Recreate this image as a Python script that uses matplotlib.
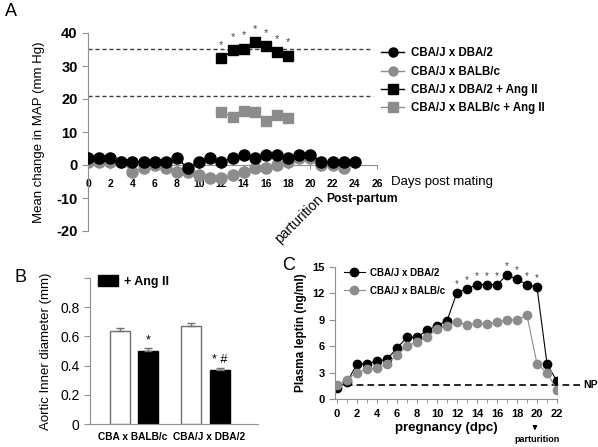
import numpy as np
import matplotlib.pyplot as plt
from matplotlib.patches import Patch
from matplotlib.lines import Line2D

plt.rcParams['font.family'] = ['Liberation Sans', 'DejaVu Sans']

GRAY = "#8c8c8c"
AXC = "#909090"

# ── panel A data ─────────────────────────────────────────────────────────
days_dba = np.arange(0, 25)
map_dba = [2, 2, 2, 1, 1, 1, 1, 1, 2, -1, 1, 2, 1, 2, 3, 2, 3, 3, 2, 3, 3, 1, 1, 1, 1]
days_balb = np.arange(0, 24)
map_balb = [1, 1, 1, 1, -2, -1, 0, -1, -2, -2, -3, -4, -4, -3, -2, -1, -1, 0, 1, 2, 2, 0, 0, -1]
days_ang = np.arange(12, 19)
map_dba_ang = [32.3, 34.7, 35.3, 37.3, 36.0, 34.3, 33.1]
map_balb_ang = [16.0, 14.5, 16.3, 16.0, 13.2, 15.3, 14.2]
ref_lines_a = [35.2, 20.8]
legend_a = ["CBA/J x DBA/2", "CBA/J x BALB/c", "CBA/J x DBA/2 + Ang II", "CBA/J x BALB/c + Ang II"]

# ── panel B data ─────────────────────────────────────────────────────────
groups_b = ["CBA x BALB/c", "CBA/J x DBA/2"]
diam_ctrl = [0.635, 0.67]
diam_ctrl_err = [0.02, 0.025]
diam_ang = [0.50, 0.37]
diam_ang_err = [0.02, 0.015]
marks_b = ["*", "* #"]

# ── panel C data ─────────────────────────────────────────────────────────
dpc = np.arange(0, 23)
leptin_dba = [1.2, 1.9, 4.0, 4.0, 4.3, 4.5, 5.8, 7.0, 7.0, 7.8, 8.3, 8.9, 12.1, 12.5,
              13.0, 13.0, 13.0, 14.1, 13.6, 13.0, 12.7, 4.0, 2.0]
leptin_balb = [1.6, 2.2, 3.0, 3.4, 3.5, 4.0, 5.0, 6.0, 6.5, 7.0, 8.0, 8.3, 8.8, 8.4,
               8.6, 8.5, 8.7, 9.0, 9.0, 9.5, 4.0, 3.0, 1.0]
star_days_c = np.arange(12, 21)
np_level = 1.6

fig = plt.figure(figsize=(5.98, 4.47), dpi=100)

# ═══════════════════════════════════════════════════════════════════════════
#  PANEL A
# ═══════════════════════════════════════════════════════════════════════════
axA = fig.add_axes([88/598, 1-231/447, 289/598, 198/447])
for y in ref_lines_a:
    axA.plot([0, 25.6], [y, y], ls="--", color="#404040", lw=1, dashes=(3, 2), zorder=1)
axA.plot(days_balb, map_balb, "-o", color=GRAY, ms=8, lw=1, zorder=2)
axA.plot(days_dba, map_dba, "-o", color="black", ms=8, lw=1, mfc="black", zorder=3)
axA.plot(days_ang, map_dba_ang, "-s", color="black", ms=7.5, lw=1, zorder=3)
axA.plot(days_ang, map_balb_ang, "-s", color=GRAY, ms=7.5, lw=1, zorder=3)
for d, v in zip(days_ang, map_dba_ang):
    axA.text(d, v + 4.0, "*", ha="center", va="center", fontsize=8, color="#444444")

axA.set_xlim(0, 26)
axA.set_ylim(-20, 40)
axA.spines["top"].set_visible(False)
axA.spines["right"].set_visible(False)
axA.spines["bottom"].set_position(("data", 0))
for s in ("left", "bottom"):
    axA.spines[s].set_color(AXC)
axA.set_xticks(np.arange(0, 27, 2))
axA.set_xticklabels([str(v) for v in range(0, 27, 2)], fontsize=7.5, fontweight="bold")
axA.tick_params(axis="x", length=3, color=AXC, pad=7)
axA.set_yticks(np.arange(-20, 41, 10))
axA.set_yticklabels([str(v) for v in range(-20, 41, 10)], fontsize=10.5, fontweight="bold")
axA.tick_params(axis="y", length=4, color=AXC)
axA.set_ylabel("Mean change in MAP (mm Hg)", fontsize=9.5, labelpad=8)
axA.text(27.3, -5.0, "Days post mating", fontsize=9.5, va="center", ha="left", clip_on=False)
axA.text(19.0, -16.3, "parturition", fontsize=10, rotation=45, ha="center", va="center", clip_on=False)
axA.text(24.7, -10.4, "Post-partum", fontsize=8.7, fontweight="bold", ha="center", va="center", clip_on=False)

handles_a = [
    Line2D([], [], color="black", marker="o", ms=6.5, lw=1),
    Line2D([], [], color=GRAY, marker="o", ms=6.5, lw=1),
    Line2D([], [], color="black", marker="s", ms=6.5, lw=1),
    Line2D([], [], color=GRAY, marker="s", ms=6.5, lw=1),
]
fig.legend(handles_a, legend_a, loc="upper left", bbox_to_anchor=(371/598, 1-37/447),
           frameon=False, handlelength=2.0, handletextpad=0.6, labelspacing=0.55,
           prop={"size": 8.3, "weight": "bold"})
fig.text(5/598, 1-12/447, "A", fontsize=13, va="center")

# ═══════════════════════════════════════════════════════════════════════════
#  PANEL B
# ═══════════════════════════════════════════════════════════════════════════
axB = fig.add_axes([90/598, 1-424/447, 168/598, 146/447])
ctrl_x = np.array([1.5, 5.05])
ang_x = np.array([2.9, 6.5])
axB.bar(ctrl_x, diam_ctrl, width=1.0, color="white", edgecolor="#707070", lw=1,
        yerr=[[0, 0], diam_ctrl_err], capsize=3, error_kw={"ecolor": "#707070", "lw": 1})
axB.bar(ang_x, diam_ang, width=1.0, color="black", edgecolor="black", lw=1,
        yerr=[[0, 0], diam_ang_err], capsize=3, error_kw={"ecolor": "#707070", "lw": 1})
for c, v, e, m in zip(ang_x, diam_ang, diam_ang_err, marks_b):
    axB.text(c, v + e + 0.05, m, ha="center", va="center", fontsize=9)
axB.set_xlim(0, 8.4)
axB.set_ylim(0, 1.0)
axB.spines["top"].set_visible(False)
axB.spines["right"].set_visible(False)
for s in ("left", "bottom"):
    axB.spines[s].set_color(AXC)
axB.set_xticks([2.15, 5.95])
axB.set_xticklabels(groups_b, fontsize=7.3, fontweight="bold")
axB.tick_params(axis="x", length=0, pad=6)
axB.set_yticks([0, 0.2, 0.4, 0.6, 0.8, 1.0])
axB.set_yticklabels(["0", "0.2", "0.4", "0.6", "0.8", ""], fontsize=10)
axB.tick_params(axis="y", length=4, color=AXC)
axB.set_ylabel("Aortic Inner diameter (mm)", fontsize=9.5, labelpad=6)
axB.legend([Patch(facecolor="black", edgecolor="black")], ["+ Ang II"], loc="upper left",
           bbox_to_anchor=(-0.02, 1.1), frameon=False, handlelength=1.6, handleheight=1.0,
           handletextpad=0.5, prop={"size": 9, "weight": "bold"})
fig.text(15/598, 1-277/447, "B", fontsize=13, va="center")

# ═══════════════════════════════════════════════════════════════════════════
#  PANEL C
# ═══════════════════════════════════════════════════════════════════════════
axC = fig.add_axes([335/598, 1-399/447, 222/598, 132/447])
axC.plot([-0.2, 24.3], [np_level, np_level], ls="--", color="black", lw=1.2,
         dashes=(4, 2.5), clip_on=False, zorder=1)
axC.plot(dpc, leptin_dba, "-o", color="black", ms=6, lw=0.8, mfc="black",
         markeredgecolor="black", zorder=2, label="CBA/J x DBA/2")
axC.plot(dpc, leptin_balb, "-o", color=GRAY, ms=6, lw=0.8, zorder=3,
         label="CBA/J x BALB/c")
for d in star_days_c:
    axC.text(d, leptin_dba[d] + 1.0, "*", ha="center", va="center", fontsize=7, color="#444444")
axC.text(24.6, np_level, "NP", fontsize=7.5, fontweight="bold", va="center", ha="left")

axC.set_xlim(-0.2, 22)
axC.set_ylim(0, 15)
axC.spines["top"].set_visible(False)
axC.spines["right"].set_visible(False)
for s in ("left", "bottom"):
    axC.spines[s].set_color(AXC)
axC.set_xticks(np.arange(0, 23, 2))
axC.set_xticks(np.arange(0, 23, 1), minor=True)
axC.set_xticklabels([str(v) for v in range(0, 23, 2)], fontsize=8, fontweight="bold")
axC.tick_params(axis="x", which="both", length=3, color=AXC, pad=4)
axC.set_yticks(np.arange(0, 16, 3))
axC.set_yticklabels([str(v) for v in range(0, 16, 3)], fontsize=8, fontweight="bold")
axC.tick_params(axis="y", length=4, color=AXC)
axC.set_ylabel("Plasma leptin (ng/ml)", fontsize=8.5, fontweight="bold", labelpad=4)
axC.set_xlabel("pregnancy (dpc)", fontsize=9.5, fontweight="bold", labelpad=2)
axC.legend(loc="upper left", bbox_to_anchor=(0.0, 1.06), frameon=False, handlelength=2.2,
           handletextpad=0.5, labelspacing=0.8, prop={"size": 7, "weight": "bold"})
axC.annotate("", xy=(19.8, -3.9), xytext=(19.8, -2.9), annotation_clip=False,
             arrowprops=dict(arrowstyle="-|>", color="black", lw=1, mutation_scale=6))
axC.text(20.0, -4.6, "parturition", fontsize=6.5, fontweight="bold", ha="center", va="center",
         clip_on=False)
fig.text(282/598, 1-265/447, "C", fontsize=13, va="center")

fig.savefig("out.png", dpi=100)
